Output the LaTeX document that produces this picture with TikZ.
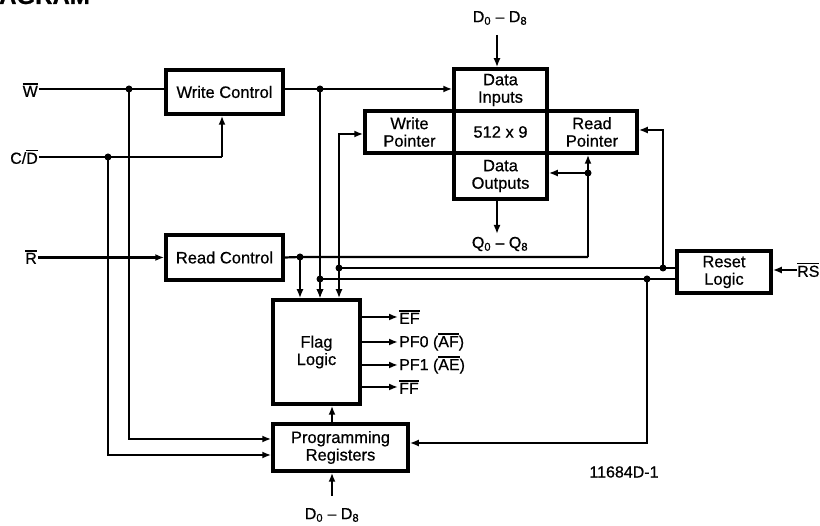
\documentclass[tikz,border=0pt]{standalone}
\usepackage{fontspec}
\setmainfont{Liberation Sans}[FakeBold=0.6]
\usetikzlibrary{arrows.meta}
\newcommand\ovl[1]{\vbox{\hrule height 1.4pt\kern 1.3pt\hbox{#1}}}
\tikzset{
  blk/.style={draw, line width=3.5pt, inner sep=0pt, align=center,
              font=\fontsize{16.5}{17.5}\selectfont},
  wire/.style={line width=2.2pt},
  arr/.style={wire, -{Latex[length=9pt,width=7pt]}},
  dot/.style={circle, fill, inner sep=0pt, minimum size=7pt},
  lbl/.style={inner sep=1pt, font=\fontsize{16}{17}\selectfont},
}
\begin{document}
\begin{tikzpicture}[x=1pt,y=-1pt]
\useasboundingbox (0,0) rectangle (820,526);
\clip (0,0) rectangle (820,526);
% cut-off title (cropped at the top edge as in the reference)
\node[anchor=base west, inner sep=0pt, font=\bfseries\fontsize{24}{24}\selectfont] (title) at (-1,4) {AGRAM};
% blocks
\node[blk, minimum width=117pt, minimum height=44pt] (wc) at (224.5,92) {Write Control};
\node[blk, minimum width=117pt, minimum height=45pt] (rc) at (224.5,257.5) {Read Control};
\node[blk, minimum width=93pt, minimum height=42pt] (di) at (500.5,90) {Data\\Inputs};
\node[blk, minimum width=89pt, minimum height=42pt] (wp) at (409.5,132) {Write\\Pointer};
\node[blk, minimum width=93pt, minimum height=42pt] (mem) at (500.5,132) {512 x 9};
\node[blk, minimum width=90pt, minimum height=42pt] (rp) at (592,132) {Read\\Pointer};
\node[blk, minimum width=93pt, minimum height=46pt] (do) at (500.5,176) {Data\\Outputs};
\node[blk, minimum width=87pt, minimum height=104pt] (fl) at (316.5,352) {Flag\\Logic};
\node[blk, minimum width=135pt, minimum height=47pt] (pr) at (340.5,447.5) {Programming\\Registers};
\node[blk, minimum width=94pt, minimum height=42pt] (rl) at (724,272) {Reset\\Logic};
% labels
\node[lbl, anchor=east] (w) at (39,90) {\ovl{W}};
\node[lbl, anchor=east] (cd) at (39,157) {C/\ovl{D}};
\node[lbl, anchor=east] (r) at (38,257) {\ovl{R}};
\node[lbl, anchor=west] (rs) at (796,270) {\ovl{RS}};
\node[lbl] (dtop) at (500,18) {D\textsubscript{0} – D\textsubscript{8}};
\node[lbl] (q) at (500,244) {Q\textsubscript{0} – Q\textsubscript{8}};
\node[lbl] (dbot) at (332,515) {D\textsubscript{0} – D\textsubscript{8}};
\node[lbl, anchor=west] (ef) at (398,317) {\ovl{EF}};
\node[lbl, anchor=west] (pf0) at (398,342) {PF0 (\ovl{AF})};
\node[lbl, anchor=west] (pf1) at (398,365) {PF1 (\ovl{AE})};
\node[lbl, anchor=west] (ff) at (398,387) {\ovl{FF}};
\node[lbl] (id) at (624,472) {11684D-1};
% junction dots
\node[dot] (j1) at (129,89) {};
\node[dot] (j2) at (320,89) {};
\node[dot] (j3) at (108,157) {};
\node[dot] (j4) at (300,257) {};
\node[dot] (j5) at (588,173) {};
\node[dot] (j6) at (663,268) {};
\node[dot] (j7) at (647,279) {};
\node[dot] (j8) at (339,268) {};
\node[dot] (j9) at (320,279) {};
\coordinate (cwc) at (222,157);
\coordinate (crc) at (588,257);
\coordinate (crp) at (663,130);
\coordinate (cpr) at (647,443);
\coordinate (cwp) at (339,134);
\coordinate (cp1) at (129,439);
\coordinate (cp2) at (108,455);
\coordinate (ctop) at (497,35);
\coordinate (cq) at (497,234);
\coordinate (cbot) at (332,496);
\coordinate (crs) at (797,270);
% write side
\draw[wire] (w.east |- j1) -- (j1.center) -- (j1 -| wc.west);
\draw[wire] (j2 -| wc.east) -- (j2.center);
\draw[arr] (j2.center) -- (j2 -| di.west);
\draw[arr] (j2.center) -- (j2 |- fl.north);
\draw[arr] (j1.center) |- (cp1 -| pr.west);
\draw[wire] (cd.east |- j3) -- (j3.center) -- (cwc);
\draw[arr] (cwc) -- (cwc |- wc.south);
\draw[arr] (j3.center) |- (cp2 -| pr.west);
% read side
\draw[arr] (r.east |- rc.west) -- (rc.west);
\draw[wire] (rc.east) -- (j4.center) -- (crc);
\draw[arr] (j4.center) -- (j4 |- fl.north);
\draw[arr] (crc) -- (crc |- rp.south);
\draw[arr] (j5.center) -- (j5 -| do.east);
% reset
\draw[arr] (crs) -- (crs -| rl.east);
\draw[wire] (j6 -| rl.west) -- (j8.center);
\draw[wire] (j7 -| rl.west) -- (j9.center);
\draw[arr] (j6.center) -- (crp) -- (crp -| rp.east);
\draw[arr] (j7.center) -- (cpr) -- (cpr -| pr.east);
\draw[arr] (j8.center) -- (cwp) -- (cwp -| wp.west);
\draw[arr] (j8.center) -- (j8 |- fl.north);
\draw[arr] (j9.center) -- (j9 |- fl.north);
% data paths
\draw[arr] (ctop) -- (ctop |- di.north);
\draw[arr] (cq |- do.south) -- (cq);
\draw[arr] (cbot) -- (cbot |- pr.south);
\draw[arr] (pr.north -| cbot) -- (fl.south -| cbot);
% flag outputs
\draw[arr] (fl.east |- ef) -- (ef.west);
\draw[arr] (fl.east |- pf0) -- (pf0.west);
\draw[arr] (fl.east |- pf1) -- (pf1.west);
\draw[arr] (fl.east |- ff) -- (ff.west);
\end{tikzpicture}
\end{document}
